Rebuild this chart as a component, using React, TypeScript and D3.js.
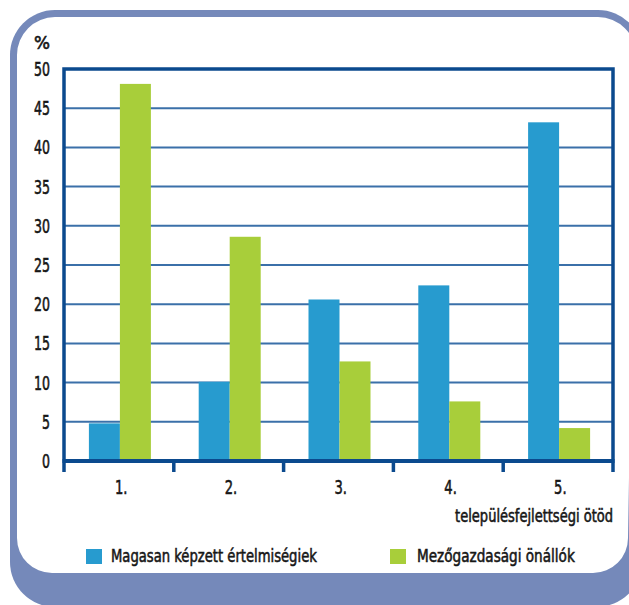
import React from "react";
import * as d3 from "d3";

const categories = ["1.", "2.", "3.", "4.", "5."];
const seriesNames = ["Magasan képzett értelmiségiek", "Mezőgazdasági önállók"];
const blueValues = [4.8, 10.1, 20.6, 22.4, 43.2];
const greenValues = [48.1, 28.6, 12.7, 7.6, 4.2];
const yTicks = [0, 5, 10, 15, 20, 25, 30, 35, 40, 45, 50];
const yUnit = "%";
const xTitle = "településfejlettségi ötöd";

const W = 629;
const H = 605;
const left = 64;
const right = 613;
const top = 69;
const bottom = 461;

const BLUE = "#279BCF";
const GREEN = "#A8CE3A";
const FRAME = "#7589BA";
const AXIS = "#0B4A8E";
const GRID = "#3B70A9";
const TEXT = "#161616";
const FAMILY = "DejaVu Sans Condensed";
const FONT = `'${FAMILY}', sans-serif`;

let ctx: CanvasRenderingContext2D | null = null;
function measure(str: string, size: number): number {
  if (!ctx && typeof document !== "undefined") {
    ctx = document.createElement("canvas").getContext("2d");
  }
  if (!ctx) return str.length * size * 0.5;
  ctx.font = `${size}px '${FAMILY}', sans-serif`;
  return ctx.measureText(str).width;
}

type FitProps = {
  str: string;
  x: number;
  y: number;
  size: number;
  width: number;
  anchor?: "start" | "end" | "middle";
};

function FitText({ str, x, y, size, width, anchor = "start" }: FitProps) {
  const natural = measure(str, size);
  const s = width / natural;
  return (
    <g transform={`translate(${x},${y}) scale(${s},1)`}>
      <text
        x={0}
        y={0}
        textAnchor={anchor}
        fontSize={size}
        fill={TEXT}
        stroke={TEXT}
        strokeWidth={0.55}
      >
        {str}
      </text>
    </g>
  );
}

export default function App() {
  const x = d3.scaleBand<string>().domain(categories).range([left, right]).paddingInner(0).paddingOuter(0);
  const y = d3.scaleLinear().domain([0, 50]).range([bottom, top]);
  const groupW = 62;
  const sub = d3.scaleBand<number>().domain([0, 1]).range([0, groupW]).padding(0);
  const series = [blueValues, greenValues];
  const colors = [BLUE, GREEN];

  const outer =
    "M10,55 A45,45 0 0 1 55,10 L598,10 A45,45 0 0 1 643,55 L643,560 A47,47 0 0 1 596,607 L55,607 A45,45 0 0 1 10,562 Z";
  const inner =
    "M17,55 A38,38 0 0 1 55,17 L598,17 A38,38 0 0 1 636,55 L628,538 A35,35 0 0 1 593,573 L52,573 A35,35 0 0 1 17,538 Z";

  return (
    <svg width={W} height={H} style={{ position: "absolute", left: 0, top: 0 }} fontFamily={FONT}>
      <rect x={0} y={0} width={W} height={H} fill="#fff" />
      <path d={outer} fill={FRAME} />
      <path d={inner} fill="#fff" />

      {/* gridlines */}
      {yTicks
        .filter((t) => t > 0 && t < 50)
        .map((t) => (
          <line key={"g" + t} x1={left} x2={right} y1={y(t)} y2={y(t)} stroke={GRID} strokeWidth={2} />
        ))}

      {/* bars */}
      {categories.map((c, i) => {
        const cx = (x(c) as number) + x.bandwidth() / 2 + 1;
        return series.map((vals, s) => (
          <rect
            key={c + s}
            x={cx - groupW / 2 + (sub(s) as number)}
            y={y(vals[i])}
            width={sub.bandwidth()}
            height={y(0) - y(vals[i])}
            fill={colors[s]}
          />
        ));
      })}

      {/* frame: left, top, right */}
      <path
        d={`M${left},${bottom} L${left},${top} L${right},${top} L${right},${bottom}`}
        fill="none"
        stroke={AXIS}
        strokeWidth={3.5}
      />
      {/* x axis */}
      <line x1={left - 1.5} x2={right + 1.5} y1={bottom} y2={bottom} stroke={AXIS} strokeWidth={4} />
      {[...categories.map((c) => x(c) as number), right].map((tx, i) => (
        <line key={"t" + i} x1={tx} x2={tx} y1={bottom} y2={bottom + 11} stroke={AXIS} strokeWidth={3.5} />
      ))}

      {/* y tick labels */}
      {yTicks.map((t) => (
        <FitText
          key={"yl" + t}
          str={String(t)}
          x={50}
          y={y(t) + 7}
          size={19}
          width={String(t).length * 8}
          anchor="end"
        />
      ))}
      <FitText str={yUnit} x={34} y={49} size={17} width={16} />

      {/* x labels */}
      {categories.map((c) => (
        <FitText
          key={"xl" + c}
          str={c}
          x={(x(c) as number) + x.bandwidth() / 2 - 4}
          y={494}
          size={19}
          width={12.5}
        />
      ))}
      <FitText str={xTitle} x={613} y={522} size={17} width={158} anchor="end" />

      {/* legend */}
      <rect x={86} y={549} width={16} height={15} fill={BLUE} />
      <FitText str={seriesNames[0]} x={111} y={562} size={18} width={206} />
      <rect x={390} y={549} width={16} height={15} fill={GREEN} />
      <FitText str={seriesNames[1]} x={417} y={562} size={18} width={158} />
    </svg>
  );
}
